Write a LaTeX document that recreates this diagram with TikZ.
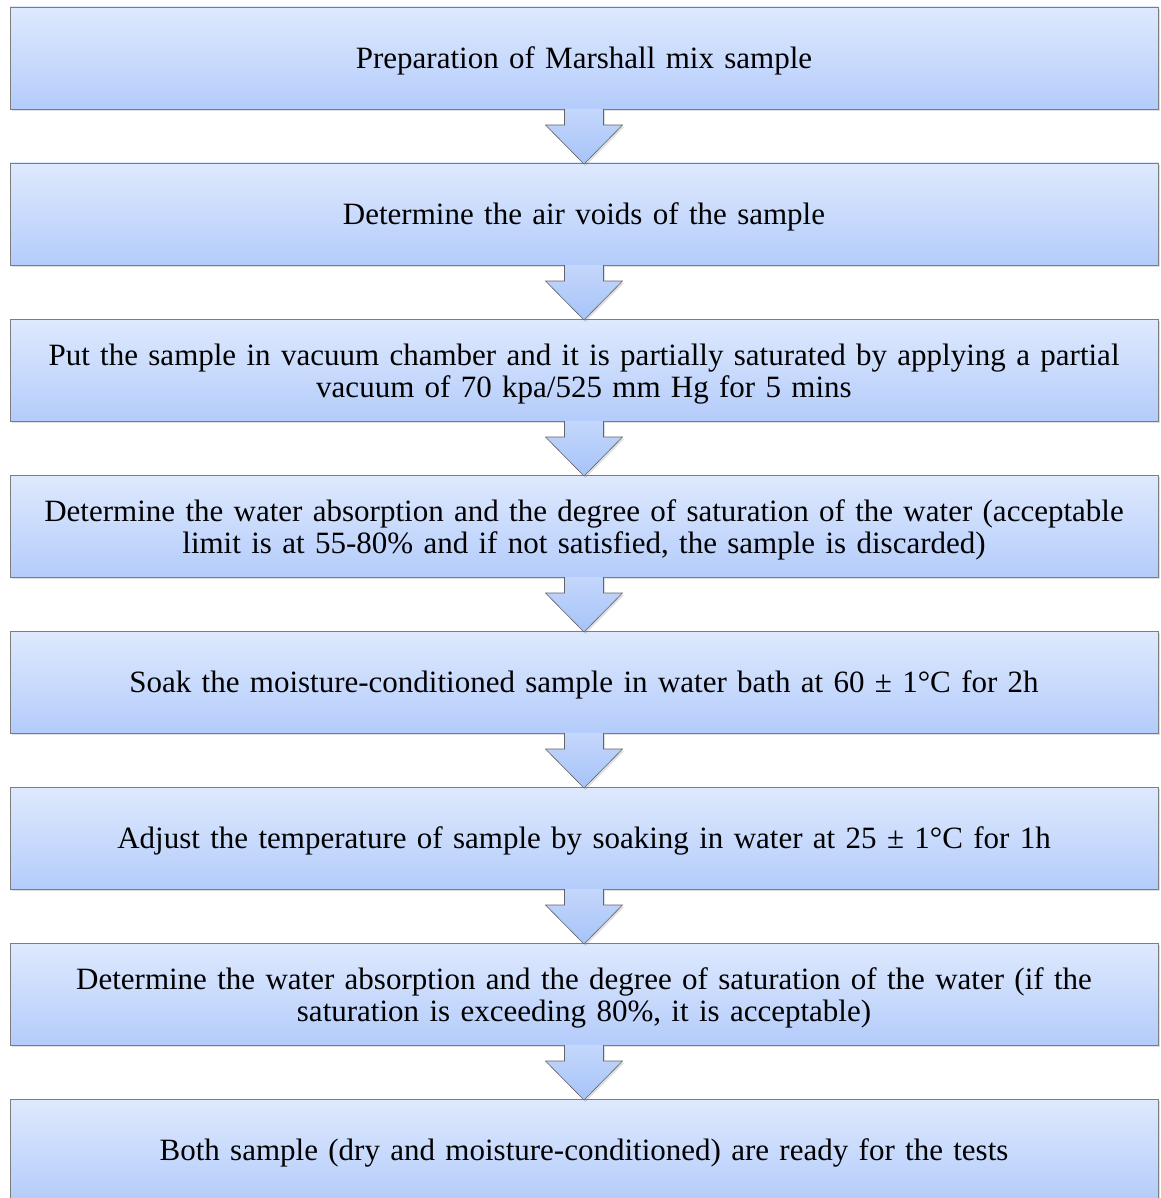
\documentclass[tikz,border=0pt]{standalone}
\usepackage{fontspec}
\setmainfont{Liberation Serif}
\usetikzlibrary{positioning, calc, shadows}

\definecolor{boxtop}{RGB}{222,233,253}
\definecolor{boxbot}{RGB}{180,204,251}
\definecolor{arrtop}{RGB}{196,215,252}
\definecolor{arrbot}{RGB}{166,195,248}
\definecolor{edge}{RGB}{125,125,125}

\tikzset{
  stepbox/.style={rectangle, draw=edge, line width=0.8pt,
    top color=boxtop, bottom color=boxbot,
    minimum width=1148pt, minimum height=102pt, text width=1120pt,
    align=center, inner sep=0pt, outer sep=0pt, text depth=0pt,
    font=\fontsize{31}{32}\selectfont,
    drop shadow={opacity=0.25, shadow xshift=1.5pt, shadow yshift=-2pt}},
  twoline/.style={text depth=31pt},
  downarrow/.style={draw=edge!80!black, line width=0.6pt,
    top color=arrtop, bottom color=arrbot,
    drop shadow={opacity=0.25, shadow xshift=1.5pt, shadow yshift=-2pt}}
}

\begin{document}
\begin{tikzpicture}[node distance=54pt]
  \useasboundingbox (0,0) rectangle (1160pt,-1198pt);

  \node [stepbox] (b1) at (584pt,-58pt) {Preparation of Marshall mix sample};
  \node [stepbox, below = of b1] (b2) {Determine the air voids of the sample};
  \node [stepbox, twoline, below = of b2] (b3) {Put the sample in vacuum chamber and it is partially saturated by applying a partial\\ vacuum of 70 kpa/525 mm Hg for 5 mins};
  \node [stepbox, twoline, below = of b3] (b4) {Determine the water absorption and the degree of saturation of the water (acceptable\\ limit is at 55-80\% and if not satisfied, the sample is discarded)};
  \node [stepbox, below = of b4] (b5) {Soak the moisture-conditioned sample in water bath at 60 ± 1°C for 2h};
  \node [stepbox, below = of b5] (b6) {Adjust the temperature of sample by soaking in water at 25 ± 1°C for 1h};
  \node [stepbox, twoline, below = of b6] (b7) {Determine the water absorption and the degree of saturation of the water (if the\\ saturation is exceeding 80\%, it is acceptable)};
  \node [stepbox, below = of b7] (b8) {Both sample (dry and moisture-conditioned) are ready for the tests};

  % block arrows between the steps
  \foreach \i/\j in {1/2, 2/3, 3/4, 4/5, 5/6, 6/7, 7/8} {
    \draw [downarrow]
      ($(b\i.south)+(-19.5pt,0)$) -- ($(b\i.south)+(-19.5pt,-16pt)$)
      -- ($(b\i.south)+(-38.5pt,-16pt)$) -- ($(b\j.north)+(0,-1pt)$)
      -- ($(b\i.south)+(38.5pt,-16pt)$) -- ($(b\i.south)+(19.5pt,-16pt)$)
      -- ($(b\i.south)+(19.5pt,0)$);
  }
\end{tikzpicture}
\end{document}
